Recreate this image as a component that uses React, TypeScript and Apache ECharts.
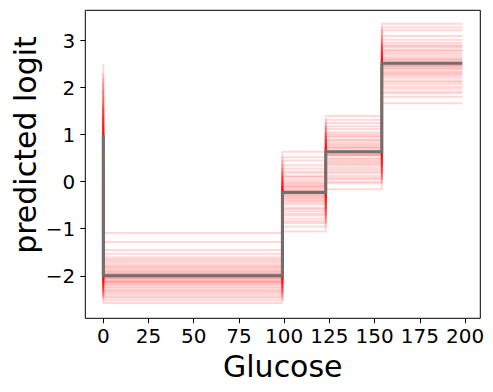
import React, { useEffect, useRef } from "react";
import * as echarts from "echarts";

// Bin edges along Glucose (step function)
const binEdges = [0, 99, 123, 154, 198.5];
// Main (mean) predicted logit: value at x=0, then one per bin
const mainValues = [1.0, -2.0, -0.23, 0.64, 2.52];

// Bootstrap samples, one array per level (40 samples each)
const sampleAtZero = [1.05, 1.55, 0.40, 0.95, 1.25, 0.10, 2.10, 0.85, 0.60, 1.45, -0.30, 0.90, 1.80, 0.25, 1.15, -0.50, 0.70, 2.50, 0.50, 1.00, 1.95, 0.00, 0.80, 1.20, 0.35, 2.30, 0.65, 1.35, -0.15, 1.65, 0.55, 1.02, 2.20, 0.15, 0.75, 1.40, 0.45, -0.05, 1.10, 1.60];
const sampleBin1 = [-2.05, -1.82, -2.31, -1.95, -2.12, -1.68, -2.44, -1.99, -2.20, -1.53, -2.08, -2.36, -1.87, -2.58, -1.76, -2.15, -1.92, -1.09, -2.27, -2.01, -1.61, -2.40, -1.97, -2.11, -1.84, -2.52, -1.45, -2.03, -2.18, -1.72, -2.33, -1.90, -1.28, -2.24, -2.06, -1.79, -2.47, -1.96, -2.14, -1.65];
const sampleBin2 = [-0.21, 0.12, -0.55, -0.30, -0.02, -0.72, 0.35, -0.18, -0.41, 0.05, -0.88, -0.26, 0.22, -0.63, -0.10, -1.06, -0.35, 0.64, -0.48, -0.15, 0.28, -0.79, -0.24, -0.05, -0.58, 0.45, -0.33, -0.12, -0.95, 0.10, -0.44, -0.20, 0.52, -0.68, -0.29, 0.01, -0.38, -0.84, -0.08, 0.18];
const sampleBin3 = [0.66, 0.95, 0.30, 0.58, 0.80, 0.12, 1.18, 0.62, 0.41, 0.88, -0.03, 0.55, 1.05, 0.22, 0.72, -0.16, 0.48, 1.40, 0.35, 0.69, 1.12, 0.05, 0.60, 0.77, 0.26, 1.25, 0.50, 0.84, 0.08, 0.98, 0.44, 0.64, 1.32, 0.18, 0.57, 0.90, 0.38, 0.00, 0.74, 1.01];
const sampleBin4 = [2.55, 2.80, 2.20, 2.48, 2.70, 2.02, 3.10, 2.50, 2.30, 2.85, 1.92, 2.42, 2.95, 2.12, 2.62, 1.67, 2.36, 3.36, 2.25, 2.58, 3.02, 1.80, 2.46, 2.66, 2.15, 3.22, 2.40, 2.74, 1.98, 2.90, 2.33, 2.52, 3.28, 2.08, 2.45, 2.78, 2.28, 1.88, 2.60, 2.88];

const xTicks = [0, 25, 50, 75, 100, 125, 150, 175, 200];
const yTicks = [-2, -1, 0, 1, 2, 3];

function stepPoints(vals: number[]): number[][] {
  const pts: number[][] = [[binEdges[0], vals[0]]];
  for (let i = 1; i < vals.length; i++) {
    pts.push([binEdges[i - 1], vals[i]]);
    pts.push([binEdges[i], vals[i]]);
  }
  return pts;
}

const FONT = "DejaVu Sans";

export default function App() {
  const ref = useRef<HTMLDivElement>(null);
  useEffect(() => {
    if (!ref.current) return;
    const chart = echarts.init(ref.current, null, { renderer: "svg" });
    const series: any[] = [];
    for (let k = 0; k < sampleBin1.length; k++) {
      const vals = [sampleAtZero[k], sampleBin1[k], sampleBin2[k], sampleBin3[k], sampleBin4[k]];
      series.push({
        type: "line",
        data: stepPoints(vals),
        symbol: "none",
        silent: true,
        z: 2,
        lineStyle: { color: "rgb(255,0,0)", opacity: 0.15, width: 2 },
      });
    }
    series.push({
      type: "line",
      data: stepPoints(mainValues),
      symbol: "none",
      silent: true,
      z: 3,
      lineStyle: { color: "#707070", width: 3, cap: "butt", join: "miter" },
    });
    const minus = (v: number) => String(v).replace("-", "\u2212");
    chart.setOption({
      animation: false,
      backgroundColor: "#ffffff",
      grid: {
        left: 85.3,
        right: 12.7,
        top: 10.3,
        bottom: 73.7,
        show: true,
        borderColor: "#000",
        borderWidth: 1,
        backgroundColor: "transparent",
        z: 10,
      },
      xAxis: {
        type: "value",
        min: -9.93,
        max: 208.4,
        axisLine: { show: false, onZero: false },
        splitLine: { show: false },
        axisTick: { show: true, length: 5, lineStyle: { color: "#000", width: 1 }, customValues: xTicks },
        axisLabel: {
          customValues: xTicks,
          fontFamily: FONT,
          fontSize: 20,
          color: "#000",
          margin: 7.5,
          formatter: (v: number) => minus(v),
        },
      },
      yAxis: {
        type: "value",
        min: -2.905,
        max: 3.646,
        axisLine: { show: false, onZero: false },
        splitLine: { show: false },
        axisTick: { show: true, length: 5, lineStyle: { color: "#000", width: 1 }, customValues: yTicks },
        axisLabel: {
          customValues: yTicks,
          fontFamily: FONT,
          fontSize: 20,
          color: "#000",
          margin: 10,
          formatter: (v: number) => minus(v),
        },
      },
      graphic: [
        {
          type: "text",
          x: 282.8,
          y: 366.3,
          style: {
            text: "Glucose",
            font: `30px "${FONT}"`,
            fill: "#000",
            align: "center",
            verticalAlign: "middle",
          },
        },
        {
          type: "text",
          x: 25,
          y: 145,
          rotation: Math.PI / 2,
          style: {
            text: "predicted logit",
            font: `30px "${FONT}"`,
            fill: "#000",
            align: "center",
            verticalAlign: "middle",
          },
        },
      ],
      series,
    });
    return () => chart.dispose();
  }, []);
  return <div ref={ref} style={{ width: 493, height: 392, position: "absolute", left: 0, top: 0 }} />;
}
